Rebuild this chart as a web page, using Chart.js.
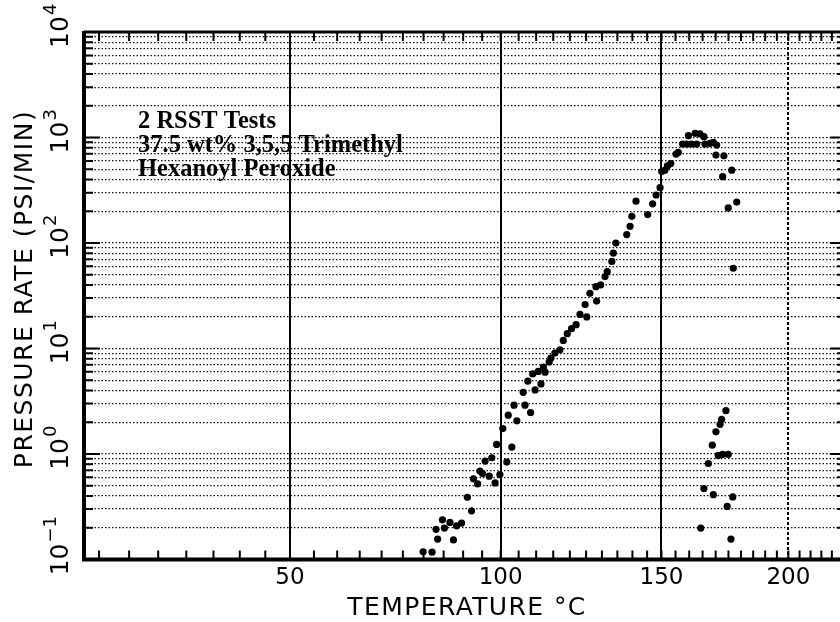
<!DOCTYPE html>
<html>
<head>
<meta charset="utf-8">
<script src="https://cdn.jsdelivr.net/npm/chart.js@4.4.1/dist/chart.umd.min.js"></script>
<style>
html,body{margin:0;padding:0;background:#fff;overflow:hidden}
canvas{display:block}
</style>
</head>
<body>
<canvas id="chart" width="850" height="622"></canvas>
<script>
// Pressure rate vs temperature, 2 RSST tests
const riseTemp = [
  79.9, 82.1, 83.1, 83.5, 84.7, 85.2, 86.6, 87.5, 88.3, 89.6,
  91.1, 92.2, 92.7, 93.8, 94.4, 95.1, 95.8, 96.9, 97.6, 98.5,
  98.9, 99.8, 100.6, 101.7, 102.1, 103.1, 103.7, 104.5, 106.8, 108.4,
  106.3, 107.6, 109.7, 109.0, 111.4, 110.6, 112.6, 112.1, 113.8, 114.3,
  115.5, 117.0, 118.0, 119.2, 120.5, 121.9, 123.1, 125.2, 124.7, 126.2,
  128.3, 128.1, 129.6, 131.0, 131.7, 133.2, 133.7, 134.5, 138.1, 139.2,
  139.8, 141.2, 145.2, 146.9, 148.1, 149.5, 150.1, 151.2, 152.1, 153.3,
  155.2, 156.0, 157.6, 159.1, 159.7, 160.9, 162.2, 162.8, 164.0, 165.5,
  165.9, 167.8, 169.1, 170.4, 170.1, 173.2, 172.7, 176.3, 174.9, 178.3, 176.9
];
const riseRate = [
  0.118, 0.117, 0.193, 0.156, 0.237, 0.198, 0.224, 0.153, 0.208, 0.221,
  0.388, 0.289, 0.580, 0.520, 0.687, 0.651, 0.855, 0.615, 0.920, 0.531,
  1.23, 0.637, 1.74, 0.837, 2.33, 1.16, 2.90, 2.06, 2.90, 2.47,
  3.84, 4.89, 4.04, 5.73, 4.61, 6.05, 5.96, 6.65, 7.42, 8.10,
  9.04, 9.72, 11.9, 13.8, 15.4, 16.8, 21.0, 19.9, 26.1, 33.3,
  28.1, 38.5, 40.0, 48.0, 53.6, 66.8, 80.1, 99.8, 120, 144,
  179, 249, 186, 235, 285, 334, 475, 490, 538, 566,
  696, 721, 867, 867, 1040, 867, 1094, 867, 1080, 1018,
  867, 879, 898, 848, 681, 670, 425, 490, 215, 244, 57.6
];
const tailTemp = [174.0, 172.3, 171.7, 170.1, 168.7, 171.0, 172.7, 174.9, 167.2, 165.5, 169.1, 176.7, 174.5, 164.3, 176.0];
const tailRate = [2.57, 2.13, 1.91, 1.62, 1.21, 0.968, 0.989, 0.989, 0.811, 0.469, 0.411, 0.391, 0.318, 0.198, 0.156];

// axes
const xLabels = [50, 100, 150, 200];
const xMin = 12.56, xMax = 226.85;      // 1000/T(K) from 3.5 down to 2.0
const yExps = [-1, 0, 1, 2, 3, 4];
const noteLines = ['2 RSST Tests', '37.5 wt% 3,5,5 Trimethyl', 'Hexanoyl Peroxide'];

const xMinor = [];
for (let t = 15; t <= 225; t += 5) xMinor.push(t);
const yGrid = [];
yExps.forEach(e => {
  for (let m = 1; m <= 9; m++) {
    const v = m * Math.pow(10, e);
    if (v <= 1e4) yGrid.push(+v.toPrecision(3));
  }
});

// temperature axis drawn on reciprocal absolute temperature
const inv = t => -1000 / (t + 273.15);
class InverseTempScale extends Chart.Scale {
  static id = 'inverseTemp';
  static defaults = {};
  determineDataLimits() { this.min = this.options.min; this.max = this.options.max; }
  buildTicks() { return this.options.ticks.values.map(v => ({value: v})); }
  getLabelForValue(v) { return String(v); }
  configure() {
    super.configure();
    this._a = inv(this.min); this._b = inv(this.max);
  }
  getPixelForValue(v) { return this.getPixelForDecimal((inv(v) - this._a) / (this._b - this._a)); }
  getValueForPixel(p) {
    const u = this._a + this.getDecimalForPixel(p) * (this._b - this._a);
    return -1000 / u - 273.15;
  }
}
Chart.register(InverseTempScale);

const isDecade = v => Math.abs(Math.log10(v) - Math.round(Math.log10(v))) < 1e-6;

const framePlugin = {
  id: 'frame',
  beforeDatasetsDraw(chart) {
    const {ctx, chartArea: a, scales: {x, y}} = chart;
    ctx.save();
    ctx.strokeStyle = '#000';
    ctx.lineWidth = 2;
    ctx.beginPath();
    y.ticks.forEach(t => {
      const py = y.getPixelForValue(t.value);
      const len = isDecade(t.value) ? 16 : 9;
      ctx.moveTo(a.left, py); ctx.lineTo(a.left + len, py);
      ctx.moveTo(a.right, py); ctx.lineTo(a.right - len, py);
    });
    xMinor.forEach(v => {
      const px = x.getPixelForValue(v);
      ctx.moveTo(px, a.bottom); ctx.lineTo(px, a.bottom - 9);
      ctx.moveTo(px, a.top); ctx.lineTo(px, a.top + 9);
    });
    ctx.stroke();
    ctx.lineWidth = 4;
    ctx.beginPath();
    ctx.moveTo(a.left, a.top - 1); ctx.lineTo(a.left, a.bottom); ctx.lineTo(a.right, a.bottom);
    ctx.stroke();
    ctx.lineWidth = 3;
    ctx.beginPath();
    ctx.moveTo(a.left, a.top); ctx.lineTo(a.right, a.top); ctx.lineTo(a.right, a.bottom);
    ctx.stroke();
    ctx.restore();
  },
  afterDraw(chart) {
    const {ctx, scales: {y}} = chart;
    ctx.save();
    ctx.fillStyle = '#000';
    // y tick labels 10^n, rotated
    yExps.forEach(e => {
      const py = y.getPixelForValue(Math.pow(10, e));
      ctx.save();
      ctx.translate(68, py);
      ctx.rotate(-Math.PI / 2);
      ctx.font = '25px "DejaVu Sans"';
      ctx.textAlign = 'center';
      ctx.textBaseline = 'alphabetic';
      ctx.fillText('10', 0, 0);
      const w = ctx.measureText('10').width;
      ctx.font = '18px "DejaVu Sans"';
      ctx.textAlign = 'left';
      ctx.fillText(String(e).replace('-', '\u2212'), w / 2 + 1, -12);
      ctx.restore();
    });
    // y title
    ctx.save();
    ctx.translate(32, 289);
    ctx.rotate(-Math.PI / 2);
    ctx.font = '25px "DejaVu Sans"';
    ctx.letterSpacing = '1.5px';
    ctx.textAlign = 'center';
    ctx.fillText('PRESSURE RATE (PSI/MIN)', 0, 0);
    ctx.restore();
    // x title
    ctx.save();
    ctx.font = '25px "DejaVu Sans"';
    ctx.letterSpacing = '1.4px';
    ctx.textAlign = 'center';
    ctx.fillText('TEMPERATURE \u00B0C', 467, 615);
    ctx.restore();
    // note
    ctx.font = 'bold 24.5px "Liberation Serif"';
    ctx.textAlign = 'left';
    noteLines.forEach((s, i) => ctx.fillText(s, 138, 128 + i * 24));
    ctx.restore();
  }
};

const pts = (ts, rs) => ts.map((t, i) => ({x: t, y: rs[i]}));

new Chart(document.getElementById('chart'), {
  type: 'scatter',
  data: {
    datasets: [
      {label: 'RSST rise', data: pts(riseTemp, riseRate)},
      {label: 'RSST tail', data: pts(tailTemp, tailRate)}
    ]
  },
  options: {
    responsive: false,
    animation: false,
    clip: false,
    layout: {padding: {left: 84, top: 32, right: 4, bottom: 25}},
    elements: {point: {radius: 3.6, backgroundColor: '#000', borderWidth: 0}},
    plugins: {legend: {display: false}, tooltip: {enabled: false}},
    scales: {
      x: {
        type: 'inverseTemp', min: xMin, max: xMax,
        ticks: {values: xLabels, color: '#000', padding: 5, font: {family: 'DejaVu Sans', size: 23}},
        grid: {color: '#000', lineWidth: 2, drawTicks: false},
        border: {display: false, dash: c => (c.tick && c.tick.value === 200 ? [3, 2] : [])}
      },
      y: {
        type: 'logarithmic', min: 0.1, max: 1e4,
        afterBuildTicks: s => { s.ticks = yGrid.map(v => ({value: v, major: isDecade(v)})); },
        ticks: {display: false},
        grid: {color: '#111', lineWidth: 1.3, drawTicks: false},
        border: {display: false, dash: [1.5, 2]}
      }
    }
  },
  plugins: [framePlugin]
});
</script>
</body>
</html>
